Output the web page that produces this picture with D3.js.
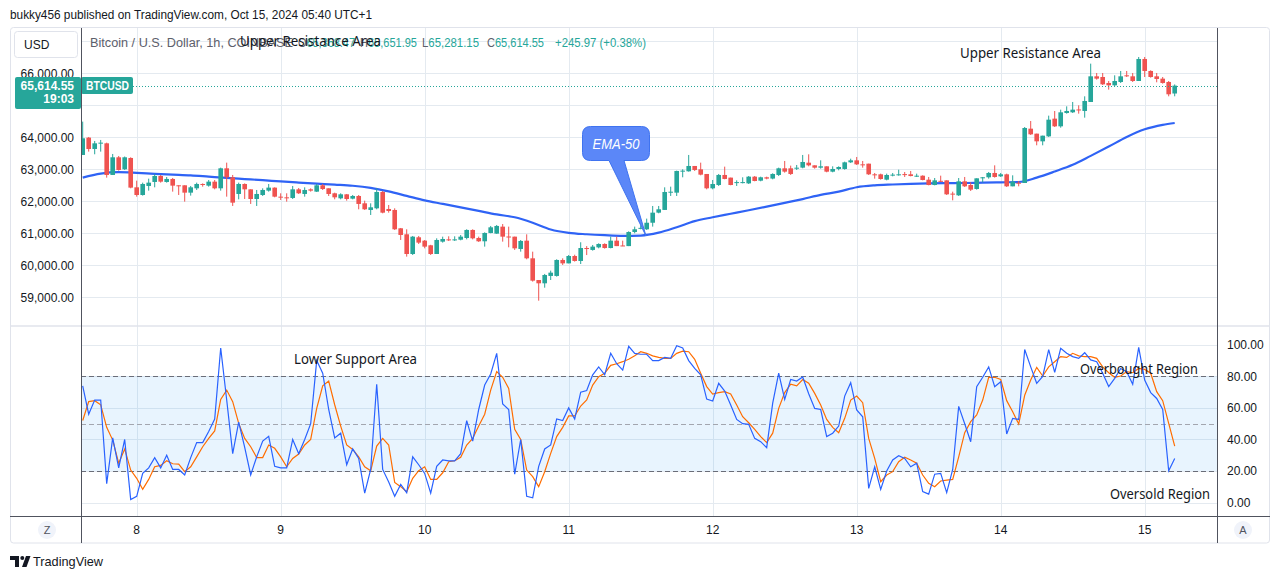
<!DOCTYPE html>
<html><head><meta charset="utf-8">
<script src="https://cdn.jsdelivr.net/npm/d3@7"></script>
<style>
html,body{margin:0;padding:0;background:#fff;}
svg{display:block;font-family:"Liberation Sans",Arial,sans-serif;}
</style></head><body>
<svg id="c" width="1281" height="579"></svg>
<script>
// ---------------- DATA ----------------
// hourly candles, first candle = hour -9 relative to 2024-10-08 00:00 (chart time, UTC+1)
const startHour = -9;
const opens = [
63448,63990,63635,63812,63812,62823,63375,63000,63354,
62437,62197,62479,62604,62791,62604,62698,62500,62500,62270,62406,62541,62489,62614,62406,63031,62750,62229,62541,62374,62072,62197,62333,62427,
62145,62124,62104,62374,62229,62374,62302,62500,62406,62250,62093,62218,62083,62166,61937,61729,61781,62291,61760,61729,61156,60969,60353,60875,
60770,60625,60353,60739,60810,60800,60800,60853,61104,60853,60750,61010,60990,61208,60900,60895,60510,60770,60218,59540,59437,59667,59667,60166,
60060,60290,60135,60540,60480,60560,60666,60540,60770,60620,60600,61040,61150,61125,61330,61645,61730,62291,62270,62948,62937,63104,62999,62854,
62406,62510,62823,62740,62580,62590,62560,62770,62645,62750,62710,62823,63031,63031,63040,63052,63207,63124,63051,63093,62926,63010,63010,63218,
63280,63155,63176,62843,62843,62676,62822,62833,62850,62843,62790,62800,62676,62509,62640,62655,62240,62187,62624,62509,62385,62740,62750,62885,
62780,62843,62468,62580,62572,64270,64114,63874,64030,64583,64343,64760,64781,64870,64823,65104,65906,65885,65698,65625,65729,65937,65906,65760,
66448,66073,65906,65833,65729,65368.47];
const highs = [
64490,64010,63885,63917,63833,63479,63416,63400,63375,
62645,62583,62708,62854,62823,62760,62729,62500,62500,62479,62583,62560,62666,62666,63052,63208,62823,62583,62560,62374,62354,62406,62541,62437,
62250,62250,62479,62416,62437,62406,62541,62541,62406,62270,62250,62229,62197,62197,62020,61937,62406,62322,61885,61781,61166,61125,60916,60916,
60790,60640,60843,60895,60906,60906,60947,61125,61125,60895,61030,61229,61260,61290,61208,60895,60790,60968,60426,59540,59730,59833,60187,60218,
60322,60330,60720,60600,60635,60687,60687,60895,60895,60770,61062,61208,61250,61458,61854,61854,62437,62458,62958,63000,63448,63104,63208,62854,
62666,62854,63083,62740,62655,62750,62790,62790,62770,62770,62875,63052,63260,63115,63135,63448,63468,63124,63280,63093,63093,63093,63240,63332,
63385,63260,63176,62885,62864,62864,62885,62988,62916,62947,62864,62812,62760,62728,62801,62655,62301,62728,62760,62593,62718,62760,62916,63124,
62885,62864,62812,62635,64322,64510,64114,64051,64677,64822,64864,64968,65104,65000,65281,66302,66010,66010,65760,65937,66073,66073,66010,66510,
66510,66094,66010,65885,65760,65651.95];
const lows = [
63448,63552,63469,63552,62739,62823,62958,62979,62406,
62145,62177,62333,62437,62583,62583,62302,62197,61989,62177,62354,62458,62458,62374,62333,62145,61854,62062,62072,61917,61854,62166,62302,62124,
62041,61989,62072,62229,62145,62302,62291,62354,62166,62062,62062,62020,62062,61750,61729,61572,61750,61624,61645,61104,60791,60270,60322,60666,
60530,60322,60353,60708,60760,60760,60780,60810,60810,60730,60583,61000,60980,60739,60562,60480,60426,60187,59490,58894,59300,59540,59646,60010,
60060,60115,60040,60320,60458,60530,60520,60530,60600,60600,60600,61000,61125,61104,61208,61625,61730,62166,62166,62750,62927,62948,62812,62374,
62374,62479,62687,62500,62479,62560,62541,62625,62625,62687,62687,62790,62895,62823,62979,63031,63093,63020,63020,62906,62906,62968,62988,63197,
63135,63051,62822,62707,62676,62655,62780,62800,62760,62780,62760,62655,62499,62499,62603,62197,62030,62166,62447,62322,62364,62593,62708,62739,
62760,62447,62468,62468,62572,64072,63750,63750,64010,64322,64301,64739,64760,64739,64614,65104,65802,65635,65490,65594,65698,65885,65729,65760,
65885,65864,65719,65677,65281,65281.15];
const closes = [
63969,63635,63812,63833,62823,63375,62979,63375,62427,
62197,62541,62583,62791,62614,62698,62489,62479,62270,62437,62541,62520,62614,62406,63031,62750,61958,62541,62374,62072,62229,62354,62427,62145,
62135,62114,62374,62250,62354,62333,62500,62385,62229,62124,62218,62072,62166,61917,61750,61812,62291,61645,61697,61125,60948,60353,60895,60708,
60583,60353,60791,60822,60800,60810,60895,61104,60843,60750,61010,61187,61229,60895,60890,60530,60760,60218,59520,59437,59697,59770,60166,60060,
60290,60135,60540,60520,60583,60666,60540,60770,60600,60610,61040,61125,61170,61330,61645,61750,62291,62300,62948,62958,63104,62979,62833,62406,
62541,62823,62698,62510,62600,62600,62770,62635,62750,62710,62854,63031,62927,62854,63050,63229,63124,63051,63093,62926,63010,63072,63218,63280,
63155,63150,62843,62822,62697,62822,62833,62843,62840,62790,62800,62666,62509,62655,62635,62218,62220,62624,62468,62364,62718,62750,62885,62760,
62843,62468,62614,62570,64291,64093,63874,64051,64551,64343,64781,64823,64864,64860,65135,65906,65833,65656,65625,65760,65906,65930,65760,66448,
66073,65885,65823,65698,65344,65614.55];

// EMA-50 read every 3 hours
const emaHours = [-9,-6,-3,0,3,6,9,12,15,18,21,24,27,30,33,36,39,42,45,48,51,54,57,60,63,66,69,72,75,78,81,84,87,90,93,96,99,102,105,108,111,114,117,120,123,126,129,132,135,138,141,144,147,150,153,156,159,162,165,168,171,173];
const emaValues = [62740,62865,62910,62890,62860,62835,62810,62770,62730,62695,62660,62620,62585,62552,62520,62485,62420,62310,62170,62030,61920,61810,61700,61590,61500,61330,61120,61015,60970,60940,60920,60930,61020,61190,61380,61500,61610,61720,61833,61950,62070,62200,62300,62440,62500,62525,62545,62560,62567,62572,62583,62593,62603,62740,62930,63140,63420,63710,64010,64250,64390,64447];

// Stochastic %K (blue) and %D (orange), one value per candle
const stochK = [
74,56,65,65,12,41,22,40,2,
4,18.5,22,28.5,22,30,21,21,17.5,28.5,38,38,45,53,98,65,31,51,35,17.5,29,39,42,23,
22,22,40,31,40,50,90,82,59,41,44,24,34,28,6,21,75,21,13,4,11.5,6.3,29,24,
18.5,6,23,27,26.5,26.5,31,52,39,59,74.5,81.5,94.6,62.5,59,18,40,4,3,23,34,36.5,53,52,
60,53,70,71,81,86,81,94.6,88,84,99,94.6,94,94,90,90,92,91.4,99.4,98,90,85,81,65.6,
64.4,75.6,70.7,61.8,52.7,50,49.6,40.7,38.6,34.8,63,82,65.4,78,77,79.6,69,59.7,59,41.8,44,48.5,67.5,76,
58.7,54.4,9,22.7,8.4,20,27,29.7,28,22.7,25,7,5.4,18,18.5,6.3,21,61,50,38.6,73.5,79.4,86,73.5,
76.6,43.5,53.4,52.7,97,86,75.6,80,97,82.5,97.8,94.6,92.5,91.4,95,90.4,89.3,82,73.5,78.7,85,83,75,98.4,
77.7,69.7,66,59,20.2,28];
const stochD = [
52,64,64.6,62,47.7,39.6,25,34,20.6,
15.4,8.4,14.7,22.7,23.6,26.5,24.6,24.4,19.6,22.7,29,35.4,40.7,45.4,65.4,71.3,64,50.2,40.7,35.4,28.5,28.5,36.5,34.4,
29,22.7,28,30.8,36.5,40,59.7,74,77,62,48.5,36.5,33.7,29,22.7,20.2,35.8,40.7,36.5,12.8,10.1,6.9,15.4,20.2,
22.7,14.7,14.7,18.9,25.9,26.5,28.7,36.5,40.7,48.5,56,71.3,83,79.4,72.4,46.4,40,20.6,16.4,10.1,19.6,31.2,41.8,47.7,
54.9,54.9,61.2,65,74.5,79.8,82,87,88,89.3,90.8,93,95.6,94.6,93,92,91.4,91.4,94.6,96,95.6,90.8,82,73.5,
68.8,69.7,70.3,68.8,61.8,54.4,50.6,46.4,41.8,38,44,59.7,69.7,75,74,78,75.6,69.2,61.8,52.7,47.7,44.3,53.4,65,
67.5,63.3,40.7,28,13.2,17.5,19.6,25.9,28.7,27,25,17.5,12.2,10.1,13.7,14.3,14.7,29,44.3,51.3,55.5,65,79.4,79.4,
78,64.6,57.6,49.8,68,77.7,85.7,80.2,86,89.3,92.5,92,94.6,93,92.5,92.5,91.4,86,82.3,79.4,80.2,83,82.3,85,
84.4,82,70.3,64.6,50.2,35.8];

const priceTicks = [59000,60000,61000,62000,63000,64000,65000,66000,67000];
const priceLabelTicks = [59000,60000,61000,62000,63000,64000,66000];
const stochTicks = [0,20,40,60,80,100];
const stochLevels = [80,50,20];

const headerText = "bukky456 published on TradingView.com, Oct 15, 2024 05:40 UTC+1";
const symbolText = "Bitcoin / U.S. Dollar, 1h, COINBASE";
const ohlcKeys = ["O","H","L","C"];
const ohlcVals = ["65,368.47","65,651.95","65,281.15","65,614.55"];
const changeText = "+245.97 (+0.38%)";
const lastPriceText = "65,614.55";
const countdownText = "19:03";
const tickerText = "BTCUSD";
const currencyText = "USD";
const emaLabel = "EMA-50";
const notes = ["Upper Resistance Area","Upper Resistance Area","Lower Support Area","Overbought Region","Oversold Region"];

// ---------------- LAYOUT ----------------
const L = 81, R = 1217, TOP = 28, PBOT = 325.5, SBOT = 516.5, FBOT = 543;
const UP = "#26a69a", DN = "#ef5350", GRID = "#e4eaf0", TXT = "#131722";
const svg = d3.select("#c");
const base = Date.UTC(2024, 9, 8);
const tOf = h => new Date(base + h * 3600000);

const x = d3.scaleUtc().domain([tOf(-9.283), tOf(180.05)]).range([L, R]);
const y = d3.scaleLinear().domain([58134, 67416]).range([325, 28]);
const ys = d3.scaleLinear().domain([0, 100]).range([502.6, 344.8]);

svg.append("rect").attr("width", 1281).attr("height", 579).attr("fill", "#fff");

const defs = svg.append("defs");
defs.append("clipPath").attr("id", "cp").append("rect").attr("x", L).attr("y", TOP).attr("width", R - L).attr("height", PBOT - TOP);
defs.append("clipPath").attr("id", "cs").append("rect").attr("x", L).attr("y", PBOT).attr("width", R - L).attr("height", SBOT - PBOT);

// frame
svg.append("rect").attr("x", 10.5).attr("y", 27.5).attr("width", 1259).attr("height", FBOT - 27.5)
  .attr("rx", 3).attr("fill", "#fff").attr("stroke", "#e0e3eb");

// grid
const days = x.ticks(d3.utcDay.every(1)).filter(d => x(d) > L + 2 && x(d) < R - 2);
const gGrid = svg.append("g").attr("stroke", GRID).attr("stroke-width", 1);
days.forEach(d => {
  const xx = Math.round(x(d)) + 0.5;
  gGrid.append("line").attr("x1", xx).attr("x2", xx).attr("y1", TOP).attr("y2", SBOT);
});
priceTicks.forEach(p => {
  const yy = Math.round(y(p)) + 0.5;
  gGrid.append("line").attr("x1", L).attr("x2", R).attr("y1", yy).attr("y2", yy);
});
stochTicks.forEach(v => {
  const yy = Math.round(ys(v)) + 0.5;
  gGrid.append("line").attr("x1", L).attr("x2", R).attr("y1", yy).attr("y2", yy);
});

// pane separator
svg.append("line").attr("x1", 10).attr("x2", 1270).attr("y1", 326).attr("y2", 326).attr("stroke", "#e0e3eb").attr("stroke-width", 1.5);

// ---------------- PRICE PANE ----------------
const candles = opens.map((o, i) => ({ t: tOf(startHour + i), o, h: highs[i], l: lows[i], c: closes[i] }));
const step = x(tOf(1)) - x(tOf(0));
const bw = step * 0.77;
const gP = svg.append("g").attr("clip-path", "url(#cp)");

// EMA
const emaPts = emaHours.map((h, i) => ({ t: tOf(h), v: emaValues[i] }));
gP.append("path").datum(emaPts)
  .attr("d", d3.line().x(d => x(d.t)).y(d => y(d.v)).curve(d3.curveMonotoneX))
  .attr("fill", "none").attr("stroke", "#2f63f5").attr("stroke-width", 2.2);

const gC = gP.append("g");
candles.forEach(d => {
  const cx = x(d.t);
  const col = d.c >= d.o ? UP : DN;
  gC.append("line").attr("x1", cx).attr("x2", cx).attr("y1", y(d.h)).attr("y2", y(d.l))
    .attr("stroke", col).attr("stroke-width", 1);
  const top = y(Math.max(d.o, d.c)), bot = y(Math.min(d.o, d.c));
  gC.append("rect").attr("x", cx - bw / 2).attr("y", top).attr("width", bw).attr("height", Math.max(1, bot - top)).attr("fill", col);
});

// last price dotted line
const lastY = Math.round(y(closes[closes.length - 1])) + 0.5;
svg.append("line").attr("x1", 133).attr("x2", R).attr("y1", lastY).attr("y2", lastY)
  .attr("stroke", UP).attr("stroke-width", 1).attr("stroke-dasharray", "1,2");

// price axis labels
const gPA = svg.append("g").attr("font-size", 12).attr("fill", TXT).attr("text-anchor", "end");
priceLabelTicks.forEach(p => {
  gPA.append("text").attr("x", 74).attr("y", y(p)).attr("dy", "0.36em").text(d3.format(",.2f")(p));
});

// USD box
svg.append("rect").attr("x", 14.5).attr("y", 31.5).attr("width", 63).attr("height", 26).attr("rx", 3)
  .attr("fill", "#fff").attr("stroke", "#e0e3eb");
svg.append("text").attr("x", 24).attr("y", 48.5).attr("font-size", 12).attr("fill", TXT).text(currencyText);

// current price label
svg.append("rect").attr("x", 15).attr("y", 77).attr("width", 66).attr("height", 32).attr("rx", 2).attr("fill", UP);
svg.append("text").attr("x", 74).attr("y", 89.5).attr("text-anchor", "end").attr("font-size", 12).attr("font-weight", "bold").attr("fill", "#fff").text(lastPriceText);
svg.append("text").attr("x", 74).attr("y", 103).attr("text-anchor", "end").attr("font-size", 12).attr("font-weight", "bold").attr("fill", "#fff").text(countdownText);
svg.append("rect").attr("x", 81).attr("y", 77).attr("width", 52).attr("height", 17).attr("rx", 2).attr("fill", UP);
svg.append("text").attr("x", 86).attr("y", 89.5).attr("font-size", 12).attr("font-weight", "bold").attr("fill", "#fff")
  .attr("textLength", 43).attr("lengthAdjust", "spacingAndGlyphs").text(tickerText);

// legend line
const gL = svg.append("g").attr("font-size", 12);
gL.append("text").attr("x", 90).attr("y", 46.5).attr("fill", "#5d606b").attr("textLength", 203).attr("lengthAdjust", "spacingAndGlyphs").text(symbolText);
const ohlcX = [298, 360, 422, 487];
ohlcKeys.forEach((k, i) => {
  const t = gL.append("text").attr("x", ohlcX[i]).attr("y", 46.5)
    .attr("textLength", 57).attr("lengthAdjust", "spacingAndGlyphs");
  t.append("tspan").attr("fill", "#5d606b").text(k);
  t.append("tspan").attr("fill", UP).text(ohlcVals[i]);
});
gL.append("text").attr("x", 555).attr("y", 46.5).attr("fill", UP).attr("textLength", 91).attr("lengthAdjust", "spacingAndGlyphs").text(changeText);

// ---------------- STOCH PANE ----------------
const gS = svg.append("g").attr("clip-path", "url(#cs)");
gS.append("rect").attr("x", L).attr("width", R - L).attr("y", ys(80)).attr("height", ys(20) - ys(80)).attr("fill", "rgba(33,150,243,0.1)");
stochLevels.forEach(v => {
  const yy = Math.round(ys(v)) + 0.5;
  gS.append("line").attr("x1", L).attr("x2", R).attr("y1", yy).attr("y2", yy)
    .attr("stroke", v === 50 ? "#a3a6af" : "#6a6d78").attr("stroke-width", 1).attr("stroke-dasharray", "5,3");
});
const sLine = d3.line().x((d, i) => x(tOf(startHour + i))).y(d => ys(d));
gS.append("path").datum(stochD).attr("d", sLine).attr("fill", "none").attr("stroke", "#ff6d00").attr("stroke-width", 1.2);
gS.append("path").datum(stochK).attr("d", sLine).attr("fill", "none").attr("stroke", "#2962ff").attr("stroke-width", 1.2);

const gSA = svg.append("g").attr("font-size", 12).attr("fill", TXT);
stochTicks.forEach(v => {
  gSA.append("text").attr("x", 1227).attr("y", ys(v)).attr("dy", "0.36em").text(d3.format(".2f")(v));
});

// ---------------- TIME AXIS ----------------
const gT = svg.append("g").attr("font-size", 12).attr("fill", TXT).attr("text-anchor", "middle");
days.forEach(d => gT.append("text").attr("x", x(d)).attr("y", 534).text(d3.utcFormat("%-d")(d)));

// dark separators
const gSep = svg.append("g").attr("stroke", "#50535e").attr("stroke-width", 1);
gSep.append("line").attr("x1", L + 0.5).attr("x2", L + 0.5).attr("y1", TOP).attr("y2", FBOT);
gSep.append("line").attr("x1", R + 0.5).attr("x2", R + 0.5).attr("y1", TOP).attr("y2", FBOT);
gSep.append("line").attr("x1", 10).attr("x2", 1270).attr("y1", SBOT).attr("y2", SBOT);

// Z / A buttons
[[47, "Z"], [1243, "A"]].forEach(([cx, s]) => {
  svg.append("circle").attr("cx", cx).attr("cy", 530).attr("r", 9).attr("fill", "#f0f3fa");
  svg.append("text").attr("x", cx).attr("y", 534).attr("text-anchor", "middle").attr("font-size", 11).attr("fill", "#50535e").text(s);
});

// ---------------- ANNOTATIONS ----------------
const gN = svg.append("g").attr("font-size", 14).attr("fill", TXT).attr("font-family", "'Noto Sans','Liberation Sans',sans-serif");
const notePos = [[240, 45.5, 141], [960, 57.5, 141], [294, 364, 123], [1080, 373.5, 118], [1110, 498.5, 100]];
notes.forEach((s, i) => {
  gN.append("text").attr("x", notePos[i][0]).attr("y", notePos[i][1])
    .attr("textLength", notePos[i][2]).attr("lengthAdjust", "spacingAndGlyphs").text(s);
});

// EMA-50 callout
(function () {
  const x0 = 582.5, y0 = 126.5, x1 = 649.5, y1 = 160.5, r = 8, b0 = 609, b1 = 624, tx = 646, ty = 236;
  const p = `M${x0 + r},${y0}H${x1 - r}Q${x1},${y0} ${x1},${y0 + r}V${y1 - r}Q${x1},${y1} ${x1 - r},${y1}H${b1}L${tx},${ty}L${b0},${y1}H${x0 + r}Q${x0},${y1} ${x0},${y1 - r}V${y0 + r}Q${x0},${y0} ${x0 + r},${y0}Z`;
  svg.append("path").attr("d", p).attr("fill", "#5b87f8").attr("stroke", "#3f73f0").attr("stroke-width", 1);
  svg.append("text").attr("x", 616).attr("y", 148.5).attr("text-anchor", "middle").attr("font-size", 14)
    .attr("font-style", "italic").attr("fill", "#fff").attr("textLength", 47).attr("lengthAdjust", "spacingAndGlyphs").text(emaLabel);
})();

// ---------------- HEADER / FOOTER ----------------
svg.append("text").attr("x", 10).attr("y", 18.5).attr("font-size", 12).attr("fill", TXT)
  .attr("textLength", 362).attr("lengthAdjust", "spacingAndGlyphs").text(headerText);

const gLogo = svg.append("g").attr("fill", TXT);
gLogo.append("path").attr("d", "M10,556H19V567H15V560H10Z");
gLogo.append("circle").attr("cx", 22.3).attr("cy", 558).attr("r", 2);
gLogo.append("path").attr("d", "M26,556H30.5L26.5,567H22Z");
svg.append("text").attr("x", 33).attr("y", 566).attr("font-size", 13).attr("fill", TXT)
  .attr("textLength", 70).attr("lengthAdjust", "spacingAndGlyphs").text("TradingView");
</script>
</body></html>
